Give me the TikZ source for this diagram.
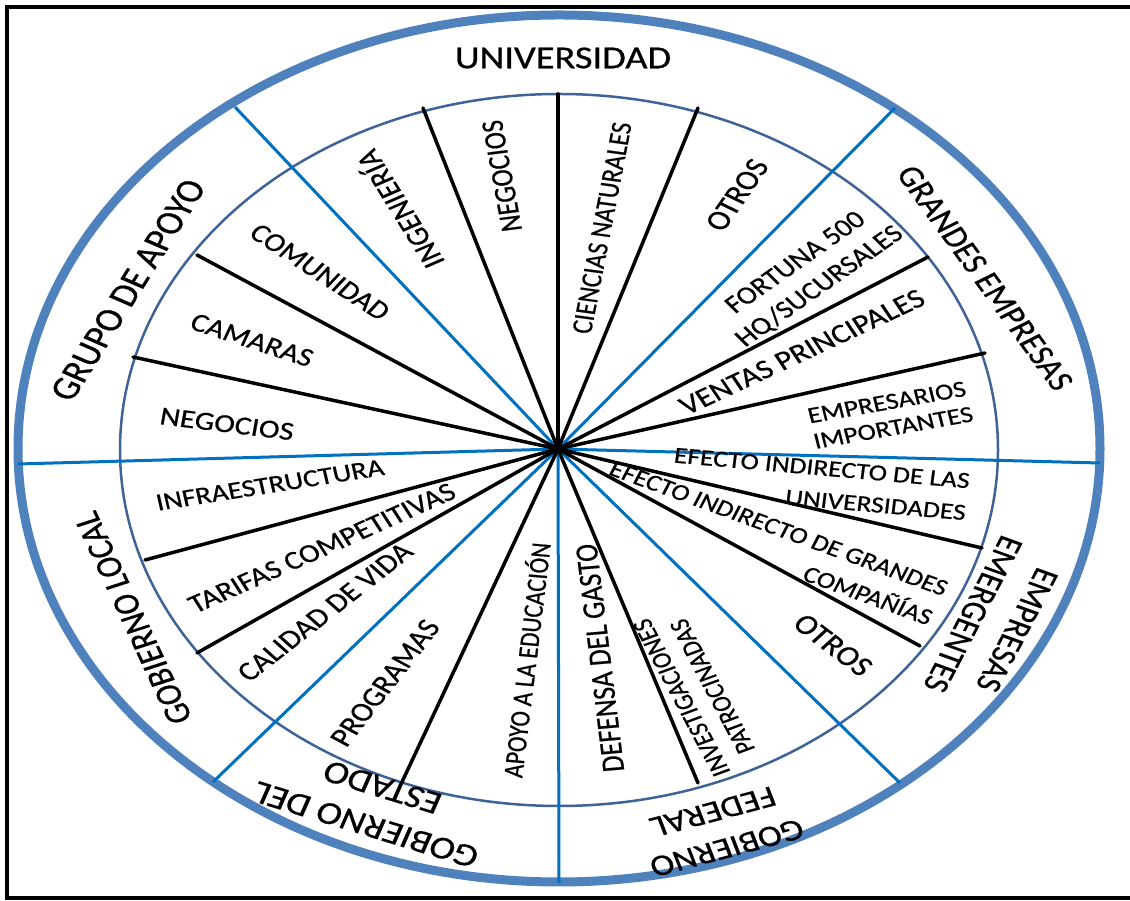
\documentclass[tikz,border=0pt]{standalone}
\usepackage{fontspec}
\setmainfont{Carlito}
\newfontfamily\lblfont{Carlito}[FakeBold=0.6]
\definecolor{ringblue}{HTML}{4F81BD}
\definecolor{innerblue}{HTML}{3F6396}
\definecolor{divblue}{HTML}{0070C0}
\tikzset{
  outerring/.style={draw=ringblue, line width=9},
  innerring/.style={draw=innerblue, line width=2.5},
  divider/.style={draw=divblue, line width=3},
  spoke/.style={draw=black, line width=3.5},
  frame/.style={draw=black, line width=4},
  lbl/.style n args={3}{inner sep=0pt, transform shape, align=center,
    rotate={atan2(sin(#1),cos(#1)/1.2)},
    font=\lblfont\fontsize{#2}{#3}\selectfont},
  lblr/.style n args={3}{lbl={#1}{#2}{#3}, align=right}
}
\begin{document}
\begin{tikzpicture}[x=1pt,y=1pt]
\useasboundingbox (0,0) rectangle (1130,901);
% centre and end points
\coordinate (c) at (558,901-449);
\coordinate (oc) at (559,901-448.5);
\coordinate (ic) at (559,901-450);
% rings
\path[outerring] (oc) ellipse [x radius=541, y radius=433.5];
\path[innerring] (ic) ellipse [x radius=439, y radius=356];
% divider ends
\coordinate (bUL) at (235,901-107);
\coordinate (bUR) at (895,901-108);
\coordinate (bL)  at (18,901-464);
\coordinate (bR)  at (1100,901-463);
\coordinate (bLL) at (213,901-782);
\coordinate (bB)  at (559,901-883);
\coordinate (bLR) at (900,901-783);
\foreach \e in {bUL,bUR,bL,bR,bLL,bB,bLR} \draw[divider] (c) -- (\e);
% spoke ends
\coordinate (s1) at (423,901-108);
\coordinate (s2) at (558,901-94);
\coordinate (s3) at (698,901-108);
\coordinate (s4) at (928,901-257);
\coordinate (s5) at (985,901-353);
\coordinate (s6) at (982,901-548);
\coordinate (s7) at (920,901-646);
\coordinate (s8) at (698,901-783);
\coordinate (s9) at (402,901-782);
\coordinate (s10) at (197,901-653);
\coordinate (s11) at (145,901-560);
\coordinate (s12) at (133,901-357);
\coordinate (s13) at (197,901-255);
\foreach \e in {s1,s2,s3,s4,s5,s6,s7,s8,s9,s10,s11,s12,s13} \draw[spoke, line cap=round] (c) -- (\e);
% labels
\begin{scope}[xscale=1.2]
\node[lbl={0}{32}{36}] (uni) at ({563/1.2},901-58) {UNIVERSIDAD};
\node[lbl={58}{33}{36}] (grupo) at ({128/1.2},901-290) {GRUPO DE APOYO};
\node[lbl={-54}{30}{34}] (grandes) at ({985/1.2},901-278) {GRANDES EMPRESAS};
\node[lbl={-117.5}{30}{40}] (emerg) at ({995/1.2},901-622) {EMPRESAS\\EMERGENTES};
\node[lbl={195}{30}{38}] (fed) at ({720/1.2},901-830) {GOBIERNO\\FEDERAL};
\node[lbl={163}{32}{40}] (estado) at ({374/1.2},901-806) {GOBIERNO DEL\\ESTADO};
\node[lbl={115}{31}{34}] (local) at ({133/1.2},901-618) {GOBIERNO LOCAL};
\node[lbl={122}{27}{30}] (ing) at ({398/1.2},901-210) {INGENIERÍA};
\node[lbl={100.5}{26}{30}] (neg1) at ({502/1.2},901-176) {NEGOCIOS};
\node[lbl={79}{24.5}{28}] (cien) at ({602/1.2},901-228) {CIENCIAS NATURALES};
\node[lbl={55}{28}{30}] (otros1) at ({737/1.2},901-195) {OTROS};
\node[lbl={35}{25}{31}] (fort) at ({808/1.2},901-275) {FORTUNA 500\\HQ/SUCURSALES};
\node[lbl={25}{27}{30}] (ventas) at ({802/1.2},901-352) {VENTAS PRINCIPALES};
\node[lbl={10}{23}{26}] (empr) at ({890/1.2},901-415) {EMPRESARIOS\\IMPORTANTES};
\node[lblr={-5}{23}{32}] (efu) at ({820/1.2},901-484) {EFECTO INDIRECTO DE LAS\\UNIVERSIDADES};
\node[lblr={-20}{23}{32}] (efg) at ({771/1.2},901-543) {EFECTO INDIRECTO DE GRANDES\\COMPAÑÍAS};
\node[lbl={-37}{28}{30}] (otros2) at ({833/1.2},901-645) {OTROS};
\node[lbl={118}{23}{28}] (inv) at ({697/1.2},901-692) {INVESTIGACIONES\\PATROCINADAS};
\node[lbl={97}{27}{30}] (def) at ({600/1.2},901-658) {DEFENSA DEL GASTO};
\node[lbl={83}{23.5}{28}] (apoyo) at ({525/1.2},901-660) {APOYO A LA EDUCACIÓN};
\node[lbl={52}{27}{30}] (prog) at ({385/1.2},901-683) {PROGRAMAS};
\node[lbl={38}{26.5}{30}] (cal) at ({325/1.2},901-612) {CALIDAD DE VIDA};
\node[lbl={24}{26}{30}] (tar) at ({322/1.2},901-548) {TARIFAS COMPETITIVAS};
\node[lbl={9}{24.5}{28}] (infra) at ({270/1.2},901-485) {INFRAESTRUCTURA};
\node[lbl={-7}{26}{30}] (neg2) at ({227/1.2},901-424) {NEGOCIOS};
\node[lbl={-18}{26}{30}] (cam) at ({252/1.2},901-340) {CAMARAS};
\node[lbl={-33}{26}{30}] (com) at ({320/1.2},901-272) {COMUNIDAD};
\end{scope}
% frame
\path[frame] (7,901-7) rectangle (1140,901-898);
\end{tikzpicture}
\end{document}
